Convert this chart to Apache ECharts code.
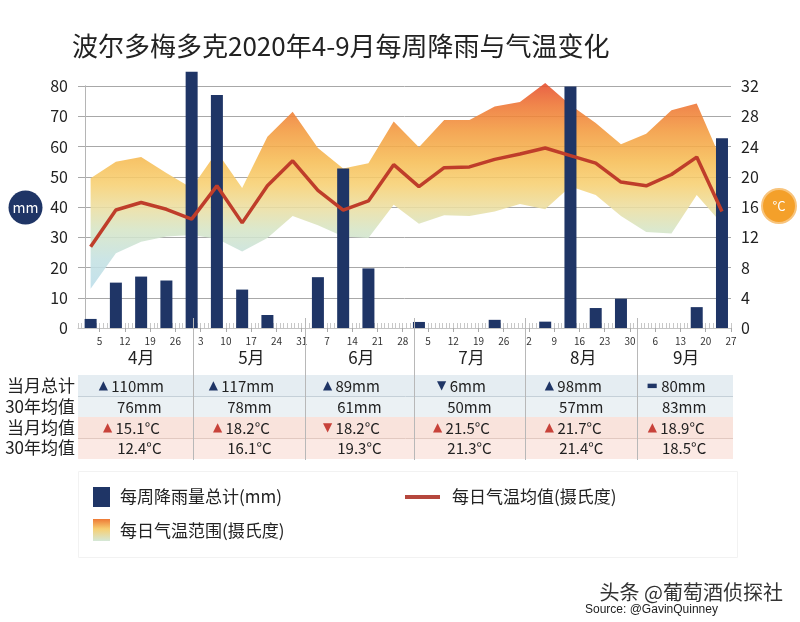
<!DOCTYPE html>
<html><head><meta charset="utf-8">
<script src="https://cdn.jsdelivr.net/npm/echarts@6/dist/echarts.min.js"></script>
<style>html,body{margin:0;padding:0;background:#fff}#c{width:800px;height:622px}</style>
</head><body><div id="c"></div>
<script>
// ---------- data ----------
const titleText = '波尔多梅多克2020年4-9月每周降雨与气温变化';
const weekStarts = ['2020-03-30','2020-04-06','2020-04-13','2020-04-20','2020-04-27','2020-05-04','2020-05-11','2020-05-18','2020-05-25',
  '2020-06-01','2020-06-08','2020-06-15','2020-06-22','2020-06-29','2020-07-06','2020-07-13','2020-07-20','2020-07-27',
  '2020-08-03','2020-08-10','2020-08-17','2020-08-24','2020-08-31','2020-09-07','2020-09-14','2020-09-21'];
const rainfall = [3, 15, 17, 15.7, 84.7, 77, 12.7, 4.3, 0, 16.8, 52.7, 19.7, 0, 2, 0, 0, 2.7, 0, 2.1, 79.8, 6.6, 9.7, 0, 0, 6.9, 62.7];
const tempMean = [10.75, 15.6, 16.6, 15.7, 14.4, 18.8, 13.9, 18.8, 22.1, 18.2, 15.6, 16.8, 21.6, 18.7, 21.2, 21.3, 22.3, 23.0, 23.8, 22.8, 21.8, 19.3, 18.8, 20.3, 22.6, 15.4];
const tempMax = [19.8, 22.0, 22.6, 20.5, 18.5, 23.3, 18.5, 25.3, 28.6, 23.8, 21.1, 21.8, 27.3, 23.9, 27.5, 27.5, 29.3, 29.9, 32.4, 29.5, 27.1, 24.3, 25.7, 28.8, 29.7, 22.0];
const tempMin = [5.2, 9.9, 11.4, 12.1, 12.3, 11.8, 10.1, 11.9, 14.8, 13.6, 12.1, 11.9, 16.3, 13.8, 14.9, 14.8, 15.4, 16.4, 15.7, 18.7, 17.6, 14.8, 12.7, 12.5, 17.6, 13.8];
const axisStart = '2020-03-30';
const axisEnd = '2020-09-27';
const dateTickLabels = ['2020-04-05','2020-04-12','2020-04-19','2020-04-26','2020-05-03','2020-05-10','2020-05-17','2020-05-24','2020-05-31',
  '2020-06-07','2020-06-14','2020-06-21','2020-06-28','2020-07-05','2020-07-12','2020-07-19','2020-07-26',
  '2020-08-02','2020-08-09','2020-08-16','2020-08-23','2020-08-30','2020-09-06','2020-09-13','2020-09-20','2020-09-27'];
const months = ['4月','5月','6月','7月','8月','9月'];
const monthStarts = ['2020-04-01','2020-05-01','2020-06-01','2020-07-01','2020-08-01','2020-09-01','2020-10-01'];
const rowLabels = ['当月总计','30年均值','当月均值','30年均值'];
const rainMonth = [110, 117, 89, 6, 98, 80];
const rainNorm = [76, 78, 61, 50, 57, 83];
const rainTrend = ['▲','▲','▲','▼','▲','▬'];
const tempMonth = [15.1, 18.2, 18.2, 21.5, 21.7, 18.9];
const tempNorm = [12.4, 16.1, 19.3, 21.3, 21.4, 18.5];
const tempTrend = ['▲','▲','▼','▲','▲','▲'];
const legendNames = ['每周降雨量总计(mm)','每日气温均值(摄氏度)','每日气温范围(摄氏度)'];
const leftUnit = 'mm', rightUnit = '°C';
const credit = '头条 @葡萄酒侦探社', source = 'Source: @GavinQuinney';

// ---------- helpers ----------
const BASE = Date.UTC(2020, 3, 1);
function dayOf(s) { const p = s.split('-').map(Number); return (Date.UTC(p[0], p[1] - 1, p[2]) - BASE) / 864e5; }
const xMin = dayOf(axisStart), xMax = dayOf(axisEnd);
const weekCenters = weekStarts.map(s => dayOf(s) + 3.5);
const labelDays = dateTickLabels.map(dayOf);
const dailyTicks = [];
for (let d = xMin; d <= xMax; d++) dailyTicks.push(d);

const FONT = '"Noto Sans CJK SC","Noto Sans",sans-serif';
const NAVY = '#1f3566';
const RED = '#bf3d2a';

const chart = echarts.init(document.getElementById('c'), null, { renderer: 'canvas' });

function renderBand(params, api) {
  if (params.dataIndex !== 0) return null;
  const up = weekCenters.map((d, i) => api.coord([d, tempMax[i]]));
  const lo = weekCenters.map((d, i) => api.coord([d, tempMin[i]])).reverse();
  const yAt = t => api.coord([weekCenters[0], t])[1];
  const gTop = yAt(33), gBot = yAt(4);
  const st = (t, c) => ({ offset: (yAt(t) - gTop) / (gBot - gTop), color: c });
  const grad = new echarts.graphic.LinearGradient(0, gTop, 0, gBot, [
    st(33, '#e4432a'), st(29.5, '#ee7533'), st(26, '#f39b3f'), st(22, '#f6bd55'),
    st(19, '#f7d072'), st(16, '#ecdea0'), st(13, '#d6e5c6'), st(9, '#c4e1e2'), st(4, '#b8dcec')
  ], true);
  return { type: 'polygon', shape: { points: up.concat(lo) }, style: { fill: grad, opacity: 0.88 }, silent: true };
}

const option = {
  backgroundColor: '#fff',
  animation: false,
  textStyle: { fontFamily: FONT },
  title: { text: titleText, left: 72, top: 33, padding: 0, textStyle: { fontSize: 26, fontWeight: 'normal', color: '#222', fontFamily: FONT } },
  grid: { left: 78, right: 69, top: 86, bottom: 294, containLabel: false },
  xAxis: [{
    type: 'value', min: xMin, max: xMax, position: 'bottom',
    axisLine: { show: true, lineStyle: { color: '#c4c4c4', width: 1 } },
    axisTick: { show: true, inside: true, length: 5, customValues: dailyTicks, lineStyle: { color: '#c8c8c8' } },
    axisLabel: { customValues: labelDays, fontSize: 10, color: '#333', margin: 8,
      formatter: v => String(new Date(BASE + v * 864e5).getUTCDate()) },
    splitLine: { show: false }
  }, {
    type: 'value', min: xMin, max: xMax, position: 'bottom',
    axisLine: { show: false },
    axisTick: { show: true, inside: false, length: 4, customValues: labelDays, lineStyle: { color: '#aaa' } },
    axisLabel: { show: false }, splitLine: { show: false }
  }],
  yAxis: [{
    type: 'value', min: 0, max: 80, interval: 10, position: 'left',
    axisLine: { show: true, lineStyle: { color: '#b5b5b5' } }, axisTick: { show: false },
    axisLabel: { fontSize: 16, color: '#222', margin: 10, padding: [8, 0, 0, 0] },
    splitLine: { show: true, lineStyle: { color: '#a8a8a8', width: 1 } }
  }, {
    type: 'value', min: 0, max: 32, interval: 4, position: 'right',
    axisLine: { show: true, lineStyle: { color: '#b5b5b5' } }, axisTick: { show: false },
    axisLabel: { fontSize: 16, color: '#222', margin: 10, padding: [8, 0, 0, 0] },
    splitLine: { show: false }
  }],
  series: [{
    type: 'custom', name: legendNames[2], xAxisIndex: 0, yAxisIndex: 1, clip: false, silent: true,
    renderItem: renderBand, data: weekCenters.map((d, i) => [d, tempMax[i]]), z: 1
  }, {
    type: 'bar', name: legendNames[0], xAxisIndex: 0, yAxisIndex: 0, barWidth: 12, clip: false,
    itemStyle: { color: NAVY }, data: weekCenters.map((d, i) => [d, rainfall[i]]), z: 2
  }, {
    type: 'line', name: legendNames[1], xAxisIndex: 0, yAxisIndex: 1, symbol: 'none', clip: false,
    lineStyle: { color: RED, width: 3.5 }, data: weekCenters.map((d, i) => [d, tempMean[i]]), z: 3
  }]
};
chart.setOption(option);

// ---------- second pass: pixel-based decorations ----------
const px = d => chart.convertToPixel({ xAxisIndex: 0 }, d);
const pyT = t => chart.convertToPixel({ yAxisIndex: 1 }, t);
const plotL = px(xMin), plotR = px(xMax);
const axisY = pyT(0);

const g = [];
// unit badges
g.push({ type: 'circle', shape: { cx: 25.5, cy: pyT(16) + 0.5, r: 17 }, style: { fill: NAVY }, z: 10 });
g.push({ type: 'text', x: 25.5, y: pyT(16) + 0.5, style: { text: leftUnit, fill: '#fff', fontSize: 14, fontFamily: FONT, align: 'center', verticalAlign: 'middle' }, z: 11 });
g.push({ type: 'circle', shape: { cx: 779, cy: pyT(16) - 1, r: 17 }, style: { fill: '#f4a02a', stroke: '#f8c47c', lineWidth: 2 }, z: 10 });
g.push({ type: 'text', x: 779, y: pyT(16) - 1, style: { text: rightUnit, fill: '#fff', fontSize: 13, fontFamily: FONT, align: 'center', verticalAlign: 'middle' }, z: 11 });

// table backgrounds
const rowY = [375, 396, 417, 438, 459];
const rowFill = ['#e5edf2', '#ebf1f4', '#f9e3dc', '#fbe9e4'];
for (let r = 0; r < 4; r++) {
  g.push({ type: 'rect', shape: { x: plotL, y: rowY[r], width: plotR - plotL + 2, height: rowY[r + 1] - rowY[r] }, style: { fill: rowFill[r] }, z: 1 });
}
g.push({ type: 'line', shape: { x1: plotL, y1: 396.5, x2: plotR + 2, y2: 396.5 }, style: { stroke: '#c5d0d8', lineWidth: 1 }, z: 2 });
g.push({ type: 'line', shape: { x1: plotL, y1: 438.5, x2: plotR + 2, y2: 438.5 }, style: { stroke: '#e2c9c1', lineWidth: 1 }, z: 2 });

// month separators
for (let m = 1; m < months.length; m++) {
  const x = Math.round(px(dayOf(monthStarts[m]))) + 0.5;
  g.push({ type: 'line', shape: { x1: x, y1: axisY - 10, x2: x, y2: 460 }, style: { stroke: '#b8b8b8', lineWidth: 1 }, z: 3 });
}
// row labels
const rowCY = [386, 407, 428, 448];
rowLabels.forEach((t, r) => g.push({ type: 'text', x: 75, y: rowCY[r], style: { text: t, fill: '#222', fontSize: 17, fontFamily: FONT, align: 'right', verticalAlign: 'middle' }, z: 5 }));

// month labels & cells
months.forEach((mName, i) => {
  const s = dayOf(monthStarts[i]), e = Math.min(dayOf(monthStarts[i + 1]), xMax);
  const cx = (px(s) + px(e)) / 2;
  g.push({ type: 'text', x: cx + 2, y: 358, style: { text: mName, fill: '#222', fontSize: 17, fontFamily: FONT, align: 'center', verticalAlign: 'middle' }, z: 5 });
  const cell = (row, tri, triColor, val) => {
    if (tri) {
      g.push({ type: 'text', x: cx - 8, y: rowCY[row], style: {
        text: '{t|' + tri + '} {v|' + val + '}', align: 'center', verticalAlign: 'middle',
        rich: { t: { fontSize: 12, fill: triColor, fontFamily: 'DejaVu Sans' }, v: { fontSize: 15, fill: '#222', fontFamily: FONT } } }, z: 5 });
    } else {
      g.push({ type: 'text', x: cx, y: rowCY[row], style: { text: val, fill: '#222', fontSize: 15, fontFamily: FONT, align: 'center', verticalAlign: 'middle' }, z: 5 });
    }
  };
  cell(0, rainTrend[i], NAVY, rainMonth[i] + 'mm');
  cell(1, null, null, rainNorm[i] + 'mm');
  cell(2, tempTrend[i], '#c8423a', tempMonth[i].toFixed(1) + '°C');
  cell(3, null, null, tempNorm[i].toFixed(1) + '°C');
});

// legend
g.push({ type: 'rect', shape: { x: 78.5, y: 471.5, width: 659, height: 86 }, style: { fill: 'none', stroke: '#f2f2f2', lineWidth: 1 }, z: 1 });
g.push({ type: 'rect', shape: { x: 93, y: 487, width: 17, height: 20 }, style: { fill: NAVY }, z: 5 });
g.push({ type: 'text', x: 120, y: 497, style: { text: legendNames[0], fill: '#222', fontSize: 17, fontFamily: FONT, verticalAlign: 'middle' }, z: 5 });
g.push({ type: 'line', shape: { x1: 405, y1: 497, x2: 440, y2: 497 }, style: { stroke: '#b5473d', lineWidth: 4 }, z: 5 });
g.push({ type: 'text', x: 452, y: 497, style: { text: legendNames[1], fill: '#222', fontSize: 17, fontFamily: FONT, verticalAlign: 'middle' }, z: 5 });
g.push({ type: 'rect', shape: { x: 93, y: 519, width: 17, height: 22 }, style: { fill: new echarts.graphic.LinearGradient(0, 0, 0, 1, [
  { offset: 0, color: '#ee7a35' }, { offset: 0.45, color: '#f7cf72' }, { offset: 1, color: '#d4e8d8' }]) }, z: 5 });
g.push({ type: 'text', x: 120, y: 531, style: { text: legendNames[2], fill: '#222', fontSize: 17, fontFamily: FONT, verticalAlign: 'middle' }, z: 5 });

// credits
g.push({ type: 'text', x: 783, y: 592, style: { text: credit, fill: '#333', fontSize: 20, fontFamily: FONT, align: 'right', verticalAlign: 'middle' }, z: 5 });
g.push({ type: 'text', x: 585, y: 610, style: { text: source, fill: '#222', fontSize: 12, fontFamily: '"Liberation Sans Narrow","Liberation Sans",sans-serif', verticalAlign: 'middle' }, z: 5 });

chart.setOption({ graphic: { elements: g } });
</script>
</body></html>
